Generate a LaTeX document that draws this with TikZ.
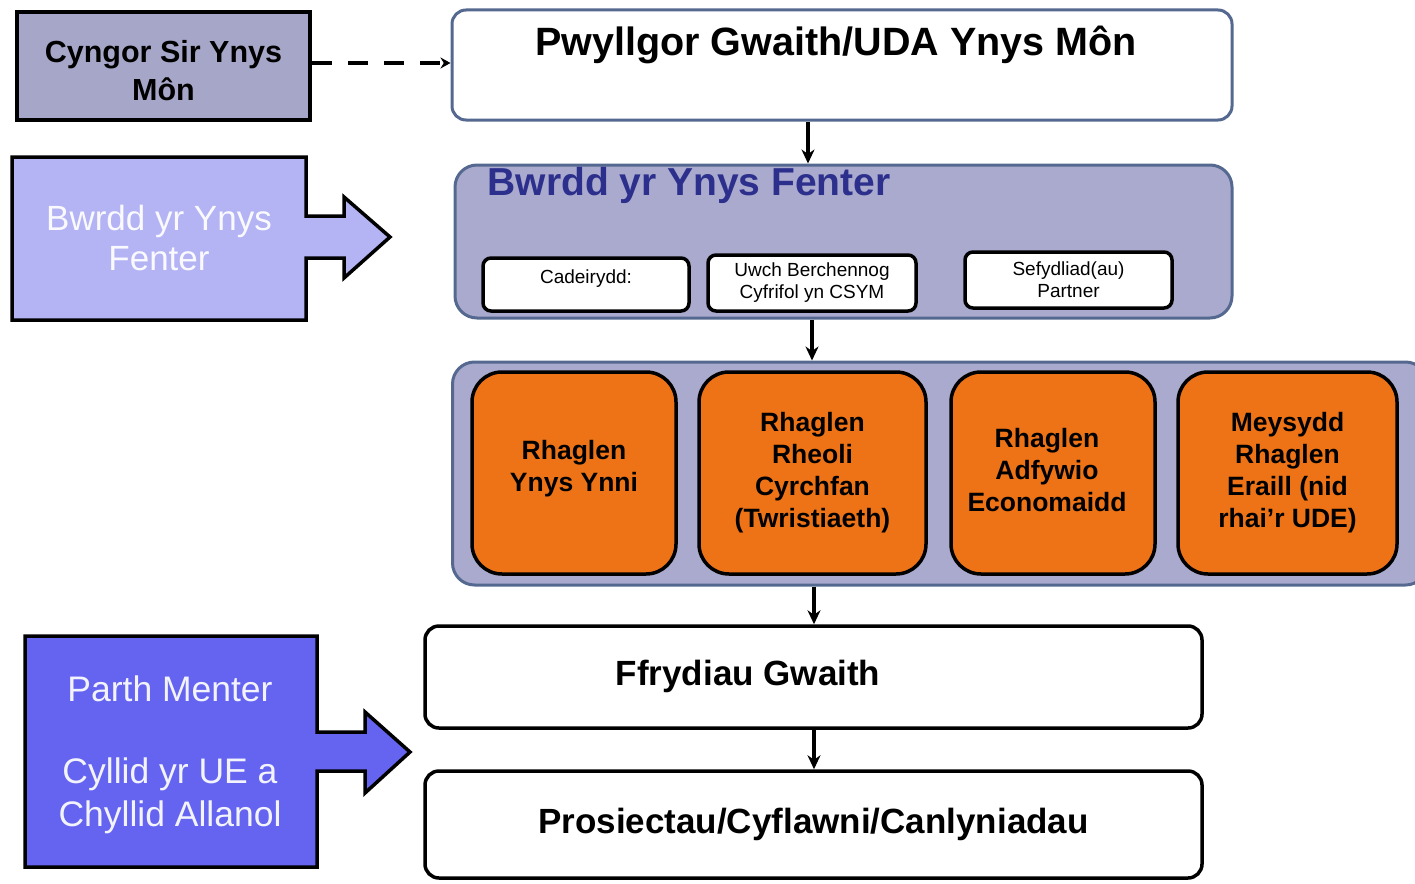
\documentclass[tikz,border=0pt]{standalone}
\usepackage{fontspec}
\setmainfont{Liberation Sans}
\usetikzlibrary{arrows.meta}
\definecolor{cyfill}{RGB}{166,166,200}
\definecolor{contfill}{RGB}{170,170,206}
\definecolor{contline}{RGB}{84,104,144}
\definecolor{lav}{RGB}{180,180,245}
\definecolor{parth}{RGB}{100,100,240}
\definecolor{orng}{RGB}{238,115,22}
\definecolor{titleblue}{RGB}{44,48,140}
\tikzset{
  blackbox/.style={draw=black, line width=3.5pt, inner sep=0pt},
  whitebox/.style={blackbox, fill=white, rounded corners=14pt},
  smallbox/.style={blackbox, fill=white, rounded corners=8pt, align=center, font=\fontsize{19}{22}\selectfont},
  progbox/.style={blackbox, fill=orng, rounded corners=30pt, align=center, font=\fontsize{26.5}{32}\selectfont\bfseries},
  progtext/.style={align=center, font=\fontsize{26.5}{32}\selectfont\bfseries},
  container/.style={draw=contline, line width=3pt, fill=contfill, rounded corners=22pt, inner sep=0pt},
  conn/.style={draw=black, line width=3.2pt, -{Stealth[length=14pt,width=13pt]}},
  dconn/.style={draw=black, line width=4pt, dash pattern=on 20pt off 16pt, -{Stealth[length=10pt,width=11pt]}},
  calloutshape/.style={draw=black, line width=3.5pt, line join=miter},
  callouttext/.style={text=white!92!lav, align=center, font=\fontsize{35}{40}\selectfont},
}
\begin{document}
\begin{tikzpicture}[x=1pt,y=-1pt]
\useasboundingbox (0,0) rectangle (1415,883);
% Cyngor
\node[blackbox, fill=cyfill, minimum width=293, minimum height=108] (cy) at (163.5,66) {};
\node[align=center, font=\fontsize{30.5}{38}\selectfont\bfseries] (cyt) at (163.5,71) {Cyngor Sir Ynys\\Môn};
% Pwyllgor
\node[draw=contline, line width=3pt, fill=white, rounded corners=14pt, minimum width=780, minimum height=110, inner sep=0pt] (pw) at (842,65) {};
\node[font=\fontsize{39.5}{44}\selectfont\bfseries] (pwt) at (836,45) {Pwyllgor Gwaith/UDA Ynys Môn};
\draw[dconn] (cy.east |- 0,63) -- (pw.west |- 0,63);
% Bwrdd container
\node[container, minimum width=777, minimum height=153] (bw) at (843.5,241.5) {};
\node[anchor=west, text=titleblue, font=\fontsize{39}{44}\selectfont\bfseries] (bwt) at (484,185) {Bwrdd yr Ynys Fenter};
\node[smallbox, minimum width=206, minimum height=53] (cad) at (586,284.5) {};
\node[font=\fontsize{19}{22}\selectfont] (cadt) at (586,279) {Cadeirydd:};
\node[smallbox, minimum width=208, minimum height=56] (uwch) at (812,283) {Uwch Berchennog\\Cyfrifol yn CSYM};
\node[smallbox, minimum width=207, minimum height=56] (sef) at (1068.5,280) {Sefydliad(au)\\Partner};
\coordinate (a1) at (808,0);
\draw[conn] (pw.south -| a1) -- (bw.north -| a1);
% Programmes container
\node[container, minimum width=975, minimum height=223] (pc) at (940,473.5) {};
\coordinate (a2) at (812,0);
\draw[conn] (bw.south -| a2) -- (pc.north -| a2);
\node[progbox, minimum width=204, minimum height=202] (p1) at (574,473) {};
\node[progtext] (p1t) at (574,469) {Rhaglen\\Ynys Ynni};
\node[progbox, minimum width=227, minimum height=202] (p2) at (812.5,473) {Rhaglen\\Rheoli\\Cyrchfan\\(Twristiaeth)};
\node[progbox, minimum width=204, minimum height=202] (p3) at (1053,473) {};
\node[progtext] (p3t) at (1047,470) {Rhaglen\\Adfywio\\Economaidd};
\node[progbox, minimum width=219, minimum height=202] (p4) at (1287.5,473) {Meysydd\\Rhaglen\\Eraill (nid\\rhai’r UDE)};
% Ffrydiau & Prosiectau
\node[whitebox, minimum width=777, minimum height=102] (ff) at (813.5,677) {};
\node[font=\fontsize{35}{40}\selectfont\bfseries] (fft) at (748,676) {Ffrydiau Gwaith};
\node[whitebox, minimum width=777, minimum height=107, font=\fontsize{35}{40}\selectfont\bfseries] (pr) at (813.5,824.5) {Prosiectau/Cyflawni/Canlyniadau};
\coordinate (a3) at (814,0);
\draw[conn] (pc.south -| a3) -- (ff.north -| a3);
\draw[conn] (ff.south -| a3) -- (pr.north -| a3);
% Callouts
\draw[calloutshape, fill=lav] (12,157) -- (306,157) -- (306,216) -- (344,216) -- (344,197) -- (390,237)
   -- (344,278) -- (344,258) -- (306,258) -- (306,320) -- (12,320) -- cycle;
\node[callouttext] (bwc) at (159,238) {Bwrdd yr Ynys\\Fenter};
\draw[calloutshape, fill=parth] (25,636) -- (317,636) -- (317,732) -- (365,732) -- (365,712) -- (410,752)
   -- (365,793) -- (365,771) -- (317,771) -- (317,867) -- (25,867) -- cycle;
\node[callouttext, text=white!92!parth, font=\fontsize{35.5}{43}\selectfont] (pm) at (170,689) {Parth Menter};
\node[callouttext, text=white!92!parth, font=\fontsize{35.5}{43}\selectfont] (cyl) at (170,796) {Cyllid yr UE a\\Chyllid Allanol};
\end{tikzpicture}
\end{document}
